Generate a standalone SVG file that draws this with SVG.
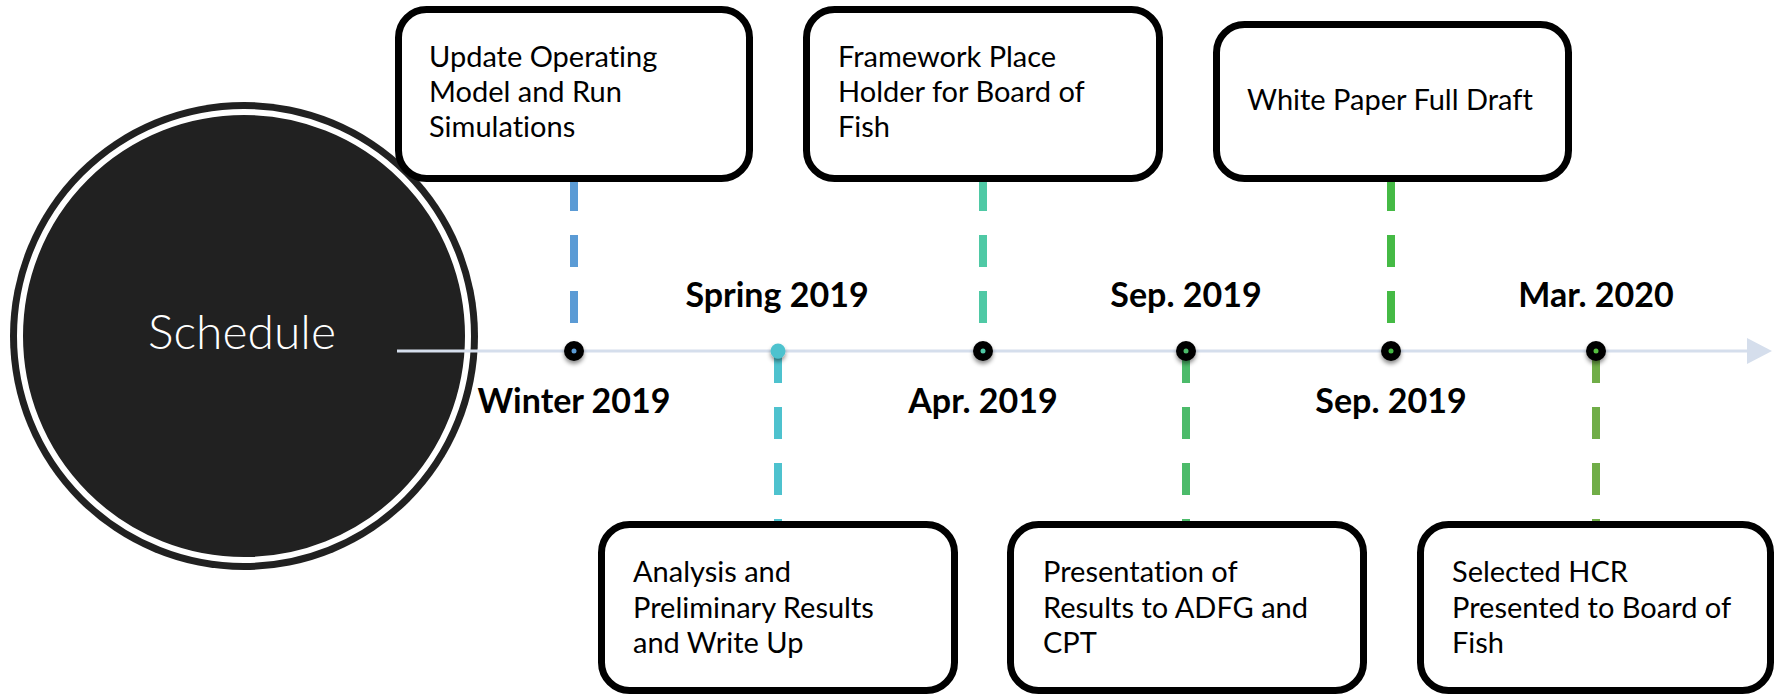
<svg xmlns="http://www.w3.org/2000/svg" width="1775" height="695" viewBox="0 0 1775 695">
  <defs>
    <filter id="shadow" x="-50%" y="-50%" width="200%" height="220%">
      <feDropShadow dx="0" dy="3" stdDeviation="2" flood-color="#000" flood-opacity="0.45"/>
    </filter>
    <style>
      text { font-variant-ligatures: none; }
      .box { fill: #fff; stroke: #000; stroke-width: 7; }
      .txt { font-family: Lato, "Open Sans", "Liberation Sans", sans-serif; font-size: 29px; fill: #000; }
      .date { font-family: Lato, "Liberation Sans", sans-serif; font-size: 34px; font-weight: bold; fill: #000; text-anchor: middle; }
      .dash { stroke-width: 8; stroke-dasharray: 32 24; fill: none; }
      .dot { fill: #000; filter: url(#shadow); }
    </style>
  </defs>
  <rect width="1775" height="695" fill="#fff"/>

  <g id="schedule">
    <circle cx="244" cy="336" r="234" fill="#212121"/>
    <circle cx="244" cy="336" r="224" fill="none" stroke="#fff" stroke-width="6"/>
    <text x="242" y="349" text-anchor="middle" font-family="Lato, 'Open Sans', 'Liberation Sans', sans-serif" font-weight="300" font-size="48" fill="#fff">Schedule</text>
  </g>

  <g id="connectors">
    <line x1="397" y1="351" x2="1750" y2="351" stroke="#D5DEEC" stroke-width="3"/>
    <polygon points="1747,338 1772,351 1747,364" fill="#D5DEEC"/>
    <line class="dash" x1="574" y1="179" x2="574" y2="351" stroke="#5B9BD5"/>
    <line class="dash" x1="778" y1="351" x2="778" y2="523" stroke="#4EC2CE"/>
    <line class="dash" x1="983" y1="179" x2="983" y2="351" stroke="#4FC9A5"/>
    <line class="dash" x1="1186" y1="351" x2="1186" y2="523" stroke="#4CBB6A"/>
    <line class="dash" x1="1391" y1="179" x2="1391" y2="351" stroke="#45BA45"/>
    <line class="dash" x1="1596" y1="351" x2="1596" y2="523" stroke="#70AD47"/>
  </g>

  <g id="dot-winter">
    <circle class="dot" cx="574" cy="351" r="10"/>
    <circle cx="574" cy="351" r="2.5" fill="#5B9BD5"/>
    <text class="date" x="574" y="413">Winter 2019</text>
  </g>
  <g id="dot-spring">
    <circle cx="778" cy="351" r="7.5" fill="#4EC2CE" filter="url(#shadow)"/>
    <text class="date" x="777" y="307">Spring 2019</text>
  </g>
  <g id="dot-apr">
    <circle class="dot" cx="983" cy="351" r="10"/>
    <circle cx="983" cy="351" r="2.5" fill="#4FC9A5"/>
    <text class="date" x="983" y="413">Apr. 2019</text>
  </g>
  <g id="dot-sep1">
    <circle class="dot" cx="1186" cy="351" r="10"/>
    <circle cx="1186" cy="351" r="2.5" fill="#4CBB6A"/>
    <text class="date" x="1186" y="307">Sep. 2019</text>
  </g>
  <g id="dot-sep2">
    <circle class="dot" cx="1391" cy="351" r="10"/>
    <circle cx="1391" cy="351" r="2.5" fill="#45BA45"/>
    <text class="date" x="1391" y="413">Sep. 2019</text>
  </g>
  <g id="dot-mar">
    <circle class="dot" cx="1596" cy="351" r="10"/>
    <circle cx="1596" cy="351" r="2.5" fill="#55C040"/>
    <text class="date" x="1596" y="307">Mar. 2020</text>
  </g>

  <g id="box-update">
    <rect class="box" x="398.5" y="9.5" width="351" height="169" rx="28"/>
    <text class="txt" x="429" y="67">Update Operating<tspan x="429" y="102">Model and Run</tspan><tspan x="429" y="137">Simulations</tspan></text>
  </g>
  <g id="box-framework">
    <rect class="box" x="806.5" y="9.5" width="353" height="169" rx="28"/>
    <text class="txt" x="838" y="67">Framework Place<tspan x="838" y="102">Holder for Board of</tspan><tspan x="838" y="137">Fish</tspan></text>
  </g>
  <g id="box-whitepaper">
    <rect class="box" x="1216.5" y="24.5" width="352" height="154" rx="28"/>
    <text class="txt" x="1247" y="110">White Paper Full Draft</text>
  </g>
  <g id="box-analysis">
    <rect class="box" x="601.5" y="524.5" width="353" height="166" rx="28"/>
    <text class="txt" x="633" y="582">Analysis and<tspan x="633" y="618">Preliminary Results</tspan><tspan x="633" y="653">and Write Up</tspan></text>
  </g>
  <g id="box-presentation">
    <rect class="box" x="1010.5" y="524.5" width="353" height="166" rx="28"/>
    <text class="txt" x="1043" y="582">Presentation of<tspan x="1043" y="618">Results to ADFG and</tspan><tspan x="1043" y="653">CPT</tspan></text>
  </g>
  <g id="box-selected">
    <rect class="box" x="1420.5" y="524.5" width="350" height="166" rx="28"/>
    <text class="txt" x="1452" y="582">Selected HCR<tspan x="1452" y="618">Presented to Board of</tspan><tspan x="1452" y="653">Fish</tspan></text>
  </g>
</svg>
